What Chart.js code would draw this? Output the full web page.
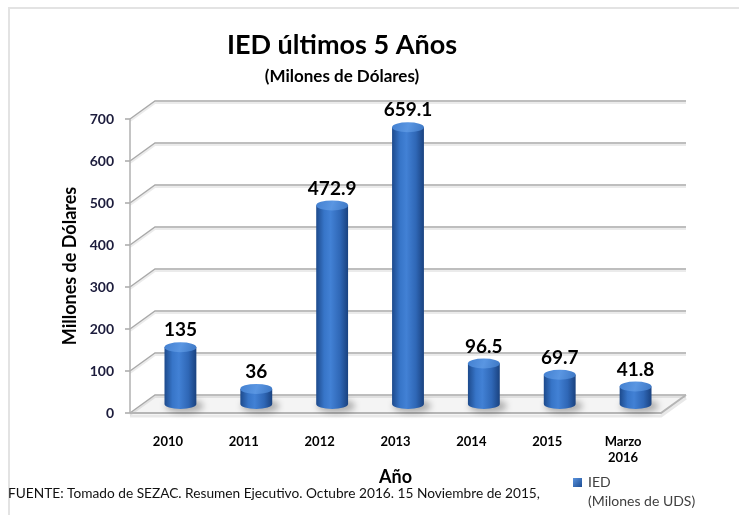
<!DOCTYPE html>
<html>
<head>
<meta charset="utf-8">
<script src="https://cdn.jsdelivr.net/npm/chart.js@4/dist/chart.umd.min.js"></script>
<style>
  html, body { margin: 0; padding: 0; background: #fff; }
  #wrap { width: 739px; height: 515px; position: relative; }
</style>
</head>
<body>
<div id="wrap"><canvas id="chart" width="739" height="515"></canvas></div>
<script>
// Data
const years = ['2010', '2011', '2012', '2013', '2014', '2015', ['Marzo', '2016']];
const iedValues = [135, 36, 472.9, 659.1, 96.5, 69.7, 41.8];
const yTicks = [0, 100, 200, 300, 400, 500, 600, 700];

const chartTitle = 'IED últimos 5 Años';
const chartSubtitle = '(Milones de Dólares)';
const sourceNote = 'FUENTE: Tomado de SEZAC. Resumen Ejecutivo. Octubre 2016. 15 Noviembre de 2015,';
const legendLines = ['IED', '(Milones de UDS)'];

const FONT = 'Lato, "Open Sans", sans-serif';
const DEPTH_X = 25;
const DEPTH_Y = -18;

// 3D walls, floor, cylinders and text
const threeDPlugin = {
    id: 'threeD',
    beforeDraw(chart) {
        const ctx = chart.ctx;
        const area = chart.chartArea;
        const yScale = chart.scales.y;

        ctx.save();
        // outer frame
        ctx.strokeStyle = '#e3e3e3';
        ctx.lineWidth = 2;
        ctx.beginPath();
        ctx.moveTo(9, 515);
        ctx.lineTo(9, 8);
        ctx.lineTo(739, 8);
        ctx.stroke();

        // floor
        const y0 = yScale.getPixelForValue(0);
        ctx.fillStyle = '#f4f4f4';
        ctx.beginPath();
        ctx.moveTo(area.left, y0);
        ctx.lineTo(area.left + DEPTH_X, y0 + DEPTH_Y);
        ctx.lineTo(area.right + DEPTH_X, y0 + DEPTH_Y);
        ctx.lineTo(area.right, y0);
        ctx.closePath();
        ctx.fill();

        // back wall gridlines + side wall diagonals
        yTicks.forEach(v => {
            const y = yScale.getPixelForValue(v);
            ctx.strokeStyle = 'rgba(0,0,0,0.08)';
            ctx.lineWidth = 2;
            ctx.beginPath();
            ctx.moveTo(area.left, y + 2);
            ctx.lineTo(area.left + DEPTH_X, y + DEPTH_Y + 2);
            ctx.lineTo(area.right + DEPTH_X, y + DEPTH_Y + 2);
            ctx.stroke();
            ctx.strokeStyle = '#a9a9a9';
            ctx.lineWidth = 1.5;
            ctx.beginPath();
            ctx.moveTo(area.left, y);
            ctx.lineTo(area.left + DEPTH_X, y + DEPTH_Y);
            ctx.lineTo(area.right + DEPTH_X, y + DEPTH_Y);
            ctx.stroke();
            // small tick
            ctx.beginPath();
            ctx.moveTo(area.left - 5, y);
            ctx.lineTo(area.left, y);
            ctx.stroke();
        });

        // floor front and right edges
        ctx.strokeStyle = '#b5b5b5';
        ctx.lineWidth = 2;
        ctx.beginPath();
        ctx.moveTo(area.left, y0);
        ctx.lineTo(area.right, y0);
        ctx.lineTo(area.right + DEPTH_X, y0 + DEPTH_Y);
        ctx.stroke();
        ctx.strokeStyle = 'rgba(0,0,0,0.09)';
        ctx.lineWidth = 3;
        ctx.beginPath();
        ctx.moveTo(area.left, y0 + 3);
        ctx.lineTo(area.right, y0 + 3);
        ctx.lineTo(area.right + DEPTH_X, y0 + DEPTH_Y + 3);
        ctx.stroke();

        // front axis line
        ctx.strokeStyle = '#b0b0b0';
        ctx.lineWidth = 1.5;
        ctx.beginPath();
        ctx.moveTo(area.left, yScale.getPixelForValue(700));
        ctx.lineTo(area.left, y0);
        ctx.stroke();

        // title and subtitle
        ctx.fillStyle = '#000';
        ctx.textAlign = 'center';
        ctx.textBaseline = 'middle';
        ctx.font = 'bold 27px ' + FONT;
        ctx.fillText(chartTitle, 342, 45);
        ctx.font = 'bold 17px ' + FONT;
        ctx.fillText(chartSubtitle, 342, 77);
        ctx.restore();
    },
    afterDatasetsDraw(chart) {
        const ctx = chart.ctx;
        const meta = chart.getDatasetMeta(0);
        ctx.save();
        meta.data.forEach((bar, i) => {
            const cx = bar.x + DEPTH_X / 2;
            const rx = bar.width / 2;
            const ry = 5;
            const top = bar.y + DEPTH_Y / 2;
            const bottom = bar.base + DEPTH_Y / 2;

            // shadow on floor
            ctx.save();
            ctx.filter = 'blur(3px)';
            ctx.fillStyle = 'rgba(0,0,0,0.28)';
            ctx.beginPath();
            ctx.ellipse(cx + 4, bottom + 2, rx + 3, ry + 2, 0, 0, Math.PI * 2);
            ctx.fill();
            ctx.restore();

            // body
            const g = ctx.createLinearGradient(cx - rx, 0, cx + rx, 0);
            g.addColorStop(0, '#1d4a8c');
            g.addColorStop(0.25, '#3775c8');
            g.addColorStop(0.45, '#4281d5');
            g.addColorStop(0.75, '#2f67b6');
            g.addColorStop(1, '#1a427f');
            ctx.fillStyle = g;
            ctx.beginPath();
            ctx.moveTo(cx - rx, top);
            ctx.lineTo(cx - rx, bottom);
            ctx.ellipse(cx, bottom, rx, ry, 0, Math.PI, 0, true);
            ctx.lineTo(cx + rx, top);
            ctx.closePath();
            ctx.fill();

            // top cap
            const tg = ctx.createLinearGradient(cx - rx, top - ry, cx + rx, top + ry);
            tg.addColorStop(0, '#4380d0');
            tg.addColorStop(0.5, '#5a96e2');
            tg.addColorStop(1, '#3d77c4');
            ctx.fillStyle = tg;
            ctx.beginPath();
            ctx.ellipse(cx, top, rx, ry, 0, 0, Math.PI * 2);
            ctx.fill();

            // value label
            ctx.fillStyle = '#000';
            ctx.font = 'bold 19px ' + FONT;
            ctx.textAlign = 'center';
            ctx.textBaseline = 'middle';
            ctx.fillText(String(iedValues[i]), cx, top - 17);
        });
        ctx.restore();
    },
    afterDraw(chart) {
        const ctx = chart.ctx;
        ctx.save();
        // source note
        ctx.fillStyle = '#111';
        ctx.font = '13.7px ' + FONT;
        ctx.textAlign = 'left';
        ctx.textBaseline = 'middle';
        ctx.fillText(sourceNote, 8, 494);

        // legend
        const lg = ctx.createLinearGradient(573, 478, 582, 487);
        lg.addColorStop(0, '#5a93de');
        lg.addColorStop(1, '#1d4d93');
        ctx.fillStyle = lg;
        ctx.fillRect(573, 478, 9, 9);
        ctx.fillStyle = '#404040';
        ctx.font = '14px ' + FONT;
        ctx.fillText(legendLines[0], 588, 482);
        ctx.fillText(legendLines[1], 588, 501);
        ctx.restore();
    }
};

new Chart(document.getElementById('chart'), {
    type: 'bar',
    data: {
        labels: years,
        datasets: [{
            label: legendLines.join(' '),
            data: iedValues,
            backgroundColor: 'rgba(0,0,0,0)',
            borderWidth: 0,
            categoryPercentage: 1,
            barPercentage: 0.42
        }]
    },
    options: {
        responsive: false,
        animation: false,
        layout: { padding: { left: 55, right: 78, top: 119, bottom: 27 } },
        plugins: {
            legend: { display: false },
            tooltip: { enabled: false }
        },
        scales: {
            x: {
                grid: { display: false },
                border: { display: false },
                ticks: {
                    color: '#000',
                    font: { family: FONT, size: 13, weight: 'bold' },
                    padding: 13,
                    maxRotation: 0
                },
                title: {
                    display: true,
                    text: 'Año',
                    color: '#000',
                    font: { family: FONT, size: 18, weight: 'bold' },
                    padding: 0
                },
                afterFit(scale) { scale.width = scale.width; scale.height = 75; }
            },
            y: {
                min: 0,
                max: 700,
                grid: { display: false },
                border: { display: false },
                ticks: {
                    stepSize: 100,
                    color: '#1c1c3c',
                    font: { family: FONT, size: 14, weight: 'bold' },
                    padding: 8
                },
                title: {
                    display: true,
                    text: 'Millones de Dólares',
                    color: '#000',
                    font: { family: FONT, size: 18, weight: 'bold' },
                    padding: 4
                },
                afterFit(scale) { scale.width = 75; }
            }
        }
    },
    plugins: [threeDPlugin]
});
</script>
</body>
</html>
